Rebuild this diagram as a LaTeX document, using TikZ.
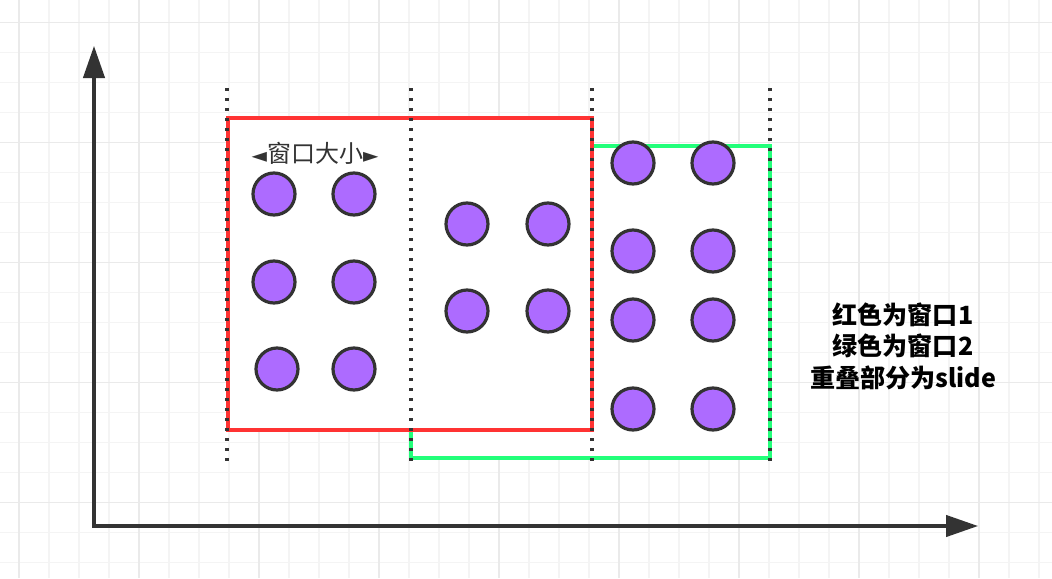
\documentclass[tikz,border=0pt]{standalone}
\usepackage{fontspec}
\setmainfont{Noto Sans CJK SC}
\newfontfamily\symfont{DejaVu Sans}
\usetikzlibrary{arrows.meta}

\definecolor{gridminor}{HTML}{F4F4F4}
\definecolor{gridmajor}{HTML}{EAEAEA}
\definecolor{inkgray}{HTML}{333333}
\definecolor{winred}{HTML}{FF3333}
\definecolor{wingreen}{HTML}{22FF7A}
\definecolor{ballfill}{HTML}{AD6BFF}

\tikzset{
  gridline/.style={gridminor, line width=1.1pt},
  gridbold/.style={gridmajor, line width=1.1pt},
  axis/.style={inkgray, line width=2.4pt,
    arrows={Triangle[length=24pt,width=16pt]-Triangle[length=24pt,width=16pt]}},
  dotline/.style={inkgray, line width=2.6pt, dash pattern=on 2.6pt off 4.9pt},
  redwin/.style={draw=winred, fill=white, line width=2.7pt},
  greenwin/.style={draw=wingreen, fill=white, line width=2.7pt},
  ball/.style={circle, draw=inkgray, fill=ballfill, line width=2.4pt,
    minimum size=31.5pt, inner sep=0pt},
}

\begin{document}
\begin{tikzpicture}[x=0.75pt, y=-0.75pt]
\useasboundingbox (0,0) rectangle (1052,578);
% Background grid
\fill[white] (0,0) rectangle (1052,578);
\foreach \x in {19,49,...,1039} \draw[gridline] (\x,0) -- (\x,578);
\foreach \y in {22.5,52.5,...,572.5} \draw[gridline] (0,\y) -- (1052,\y);
\foreach \x in {19,139,...,1039} \draw[gridbold] (\x,0) -- (\x,578);
\foreach \y in {22.5,142.5,...,572.5} \draw[gridbold] (0,\y) -- (1052,\y);
% Coordinates
\coordinate (origin) at (94,526);
\coordinate (y-end) at (94,46);
\coordinate (x-end) at (978,526);
\coordinate (red-tl) at (228,118);
\coordinate (red-br) at (592,430);
\coordinate (green-tl) at (411,146);
\coordinate (green-br) at (770,458);
% Axes
\draw[axis] (y-end) |- (x-end);
% Windows
\draw[greenwin] (green-tl) rectangle (green-br);
\draw[redwin] (red-tl) rectangle (red-br);
% Dotted borders
\foreach \x in {227,411,592,770} \draw[dotline] (\x,88) -- (\x,466);
% Points
\foreach \x/\y/\n in {274/194/a1, 354/194/a2, 274/282/a3, 354/282/a4, 277/369/a5, 354/369/a6,
  467/224/b1, 548/224/b2, 467/311/b3, 548/311/b4,
  633/163/c1, 713/163/c2, 633/251/c3, 713/251/c4, 633/320/c5, 713/320/c6, 633/409/c7, 713/409/c8}
  \node[ball] (\n) at (\x,\y) {};
% Labels
\node[inkgray, font=\fontsize{18}{22}\selectfont, inner sep=0pt] (size-label) at (315,153)
  {{\symfont\fontsize{15}{16}\selectfont ◄}窗口大小{\symfont\fontsize{15}{16}\selectfont ►}};
\node[align=center, font=\bfseries\fontsize{18.8}{23.6}\selectfont, inner sep=0pt] (legend) at (903,346)
  {红色为窗口1\\绿色为窗口2\\重叠部分为slide};
\end{tikzpicture}
\end{document}
